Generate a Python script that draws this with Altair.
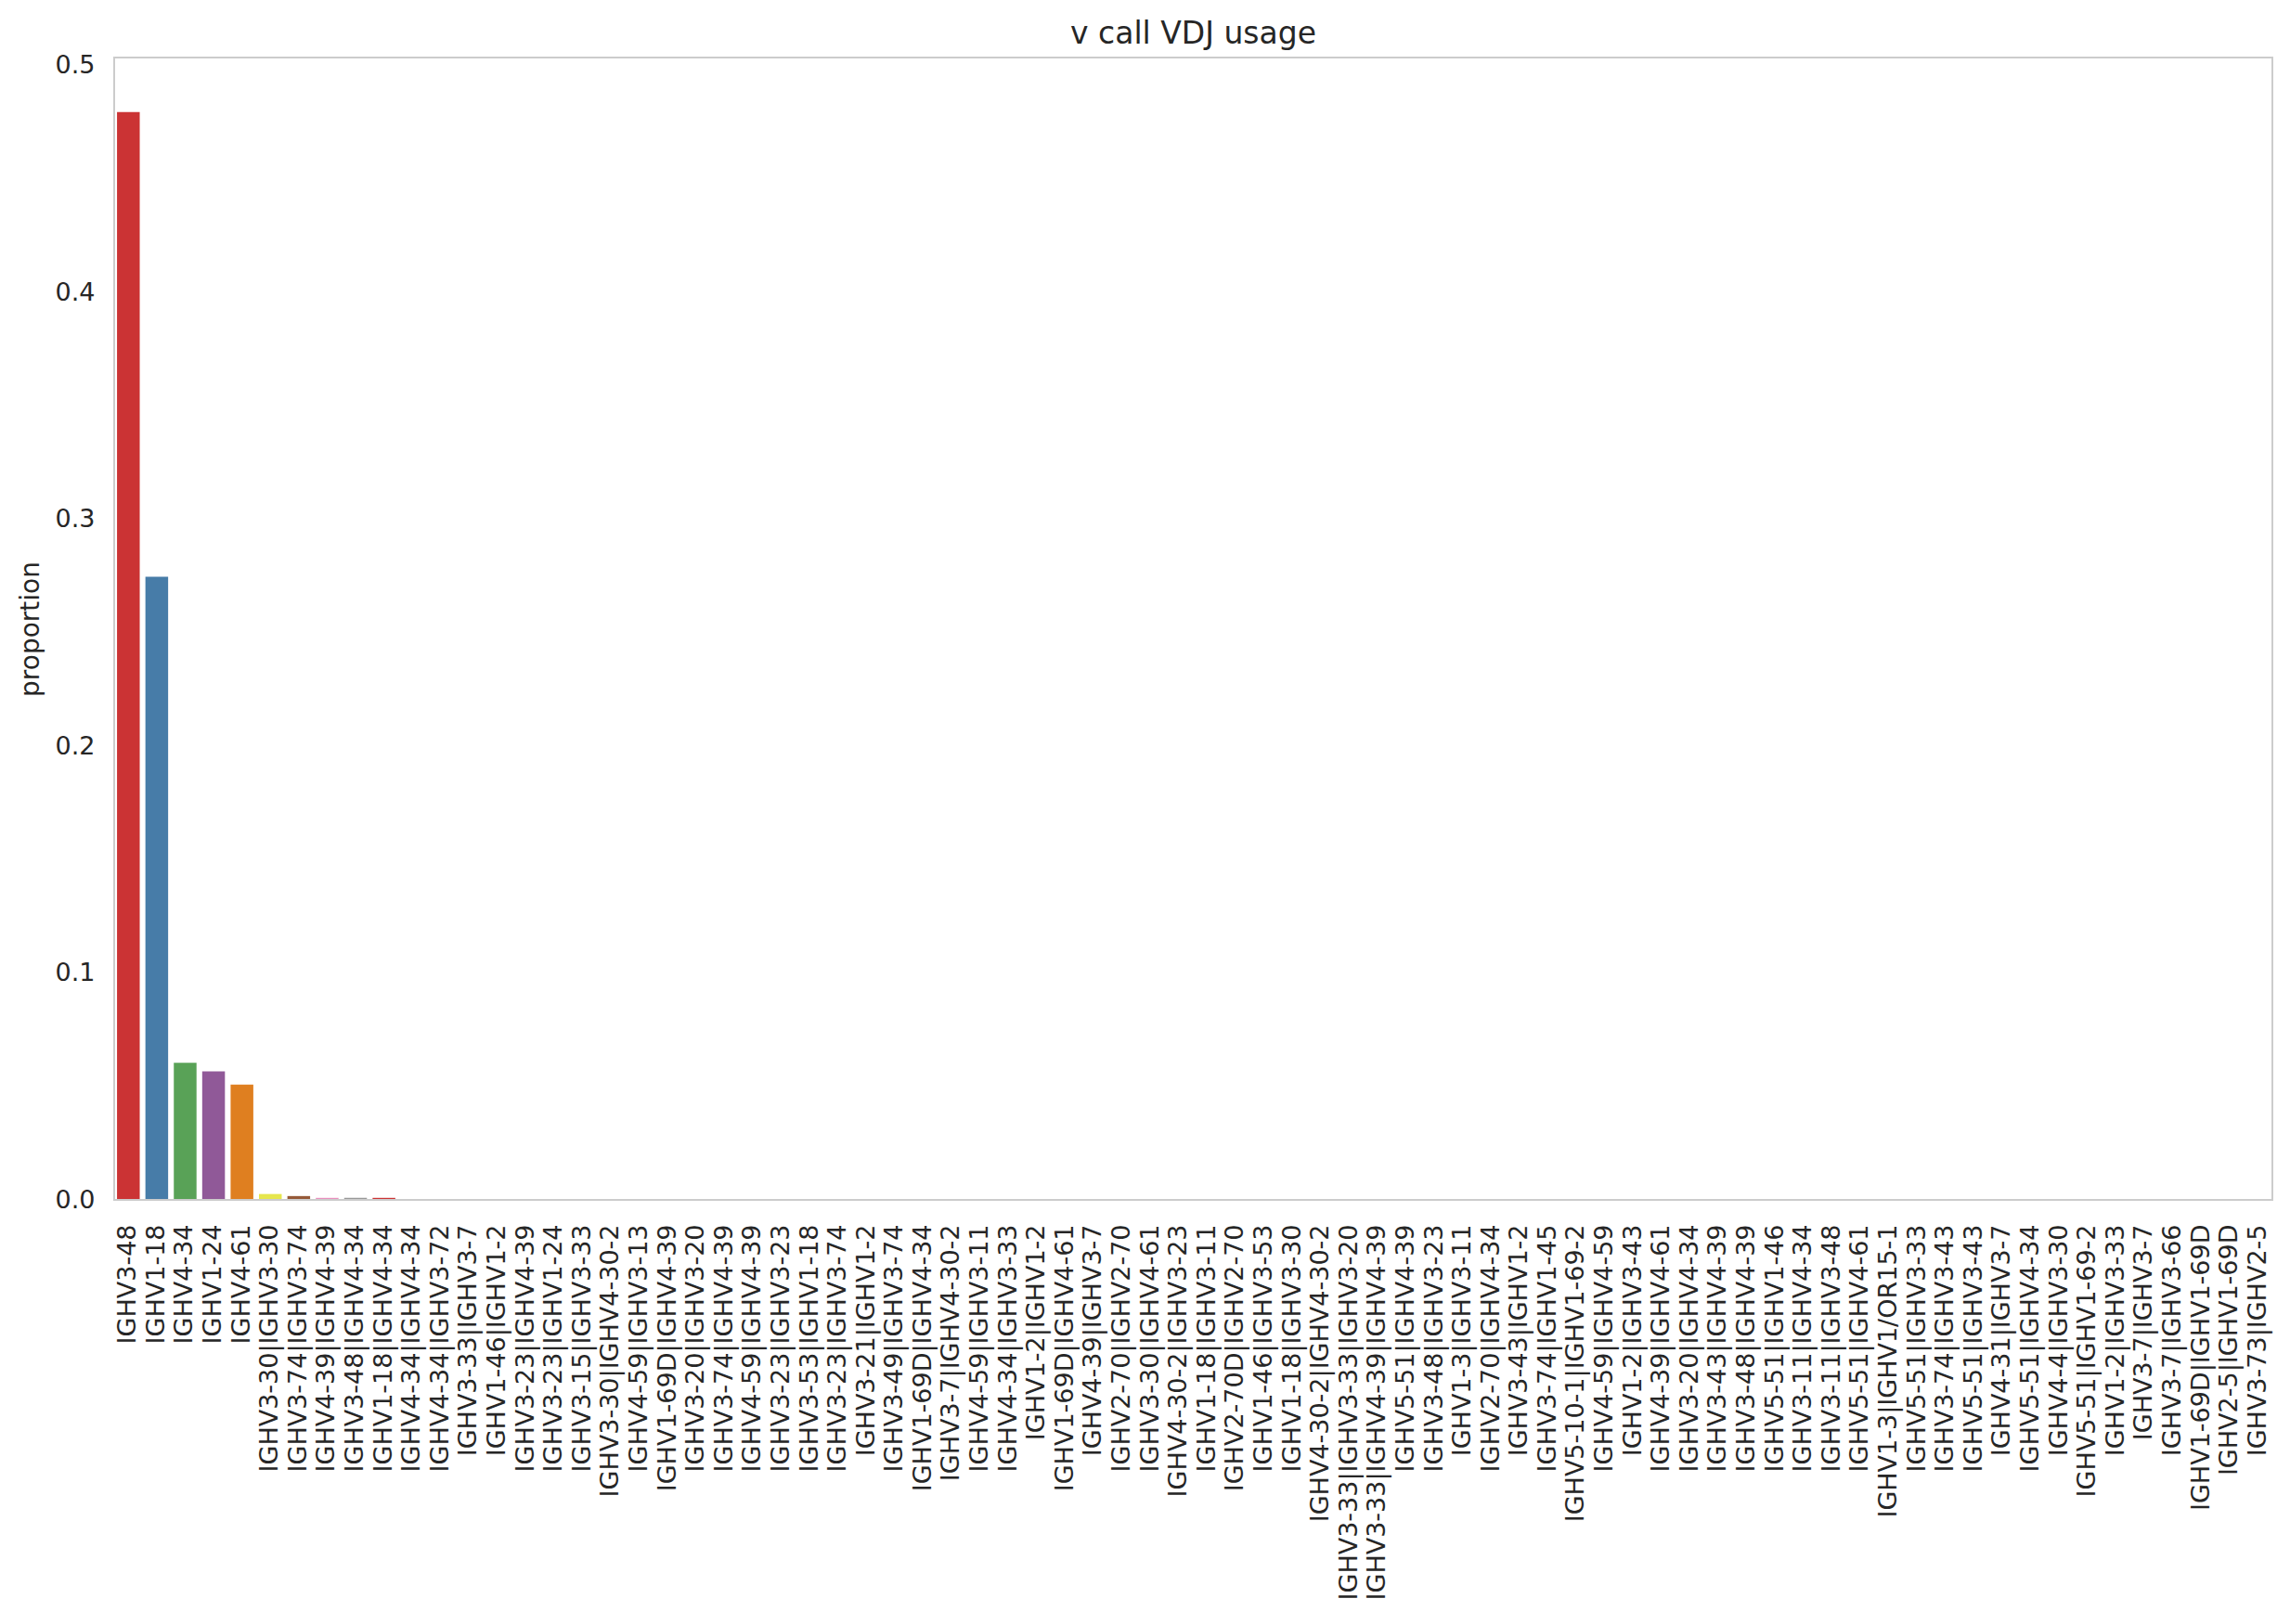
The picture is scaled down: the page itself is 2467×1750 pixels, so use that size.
import altair as alt
import pandas as pd

genes = [
    "IGHV3-48", "IGHV1-18", "IGHV4-34", "IGHV1-24", "IGHV4-61",
    "IGHV3-30|IGHV3-30", "IGHV3-74|IGHV3-74", "IGHV4-39|IGHV4-39", "IGHV3-48|IGHV4-34",
    "IGHV1-18|IGHV4-34", "IGHV4-34|IGHV4-34", "IGHV4-34|IGHV3-72", "IGHV3-33|IGHV3-7",
    "IGHV1-46|IGHV1-2", "IGHV3-23|IGHV4-39", "IGHV3-23|IGHV1-24", "IGHV3-15|IGHV3-33",
    "IGHV3-30|IGHV4-30-2", "IGHV4-59|IGHV3-13", "IGHV1-69D|IGHV4-39", "IGHV3-20|IGHV3-20",
    "IGHV3-74|IGHV4-39", "IGHV4-59|IGHV4-39", "IGHV3-23|IGHV3-23", "IGHV3-53|IGHV1-18",
    "IGHV3-23|IGHV3-74", "IGHV3-21|IGHV1-2", "IGHV3-49|IGHV3-74", "IGHV1-69D|IGHV4-34",
    "IGHV3-7|IGHV4-30-2", "IGHV4-59|IGHV3-11", "IGHV4-34|IGHV3-33", "IGHV1-2|IGHV1-2",
    "IGHV1-69D|IGHV4-61", "IGHV4-39|IGHV3-7", "IGHV2-70|IGHV2-70", "IGHV3-30|IGHV4-61",
    "IGHV4-30-2|IGHV3-23", "IGHV1-18|IGHV3-11", "IGHV2-70D|IGHV2-70", "IGHV1-46|IGHV3-53",
    "IGHV1-18|IGHV3-30", "IGHV4-30-2|IGHV4-30-2", "IGHV3-33|IGHV3-33|IGHV3-20",
    "IGHV3-33|IGHV4-39|IGHV4-39", "IGHV5-51|IGHV4-39", "IGHV3-48|IGHV3-23", "IGHV1-3|IGHV3-11",
    "IGHV2-70|IGHV4-34", "IGHV3-43|IGHV1-2", "IGHV3-74|IGHV1-45", "IGHV5-10-1|IGHV1-69-2",
    "IGHV4-59|IGHV4-59", "IGHV1-2|IGHV3-43", "IGHV4-39|IGHV4-61", "IGHV3-20|IGHV4-34",
    "IGHV3-43|IGHV4-39", "IGHV3-48|IGHV4-39", "IGHV5-51|IGHV1-46", "IGHV3-11|IGHV4-34",
    "IGHV3-11|IGHV3-48", "IGHV5-51|IGHV4-61", "IGHV1-3|IGHV1/OR15-1", "IGHV5-51|IGHV3-33",
    "IGHV3-74|IGHV3-43", "IGHV5-51|IGHV3-43", "IGHV4-31|IGHV3-7", "IGHV5-51|IGHV4-34",
    "IGHV4-4|IGHV3-30", "IGHV5-51|IGHV1-69-2", "IGHV1-2|IGHV3-33", "IGHV3-7|IGHV3-7",
    "IGHV3-7|IGHV3-66", "IGHV1-69D|IGHV1-69D", "IGHV2-5|IGHV1-69D", "IGHV3-73|IGHV2-5",
]

proportions = [
    0.4795, 0.2747, 0.0604, 0.0567, 0.0508,
    0.0026, 0.0017, 0.0009, 0.0009,
    0.0009, 0.0003, 0.0003, 0.0003,
    0.0003, 0.0003, 0.0003, 0.0003,
    0.0002, 0.0002, 0.0002, 0.0002,
    0.0002, 0.0002, 0.0002, 0.0002,
    0.0002, 0.0002, 0.0002, 0.0002,
    0.0002, 0.0002, 0.0002, 0.0002,
    0.0002, 0.0002, 0.0002, 0.0002,
    0.0002, 0.0002, 0.0002, 0.0002,
    0.0002, 0.0002, 0.0002,
    0.0002, 0.0001, 0.0001, 0.0001,
    0.0001, 0.0001, 0.0001, 0.0001,
    0.0001, 0.0001, 0.0001, 0.0001,
    0.0001, 0.0001, 0.0001, 0.0001,
    0.0001, 0.0001, 0.0001, 0.0001,
    0.0001, 0.0001, 0.0001, 0.0001,
    0.0001, 0.0001, 0.0001, 0.0001,
    0.0001, 0.0001, 0.0001, 0.0001,
]

palette = ["#cb3334", "#477ca8", "#59a257", "#905998", "#df7f20",
           "#e6e64d", "#965a38", "#e890be", "#999999"]

y_ticks = [0.0, 0.1, 0.2, 0.3, 0.4, 0.5]

df = pd.DataFrame({"gene": genes, "proportion": proportions})
colors = [palette[i % len(palette)] for i in range(len(genes))]

W, H = 2325, 1231
FONT = "DejaVu Sans"
TXT = "#262626"

bars = alt.Chart(df).mark_bar().encode(
    x=alt.X("gene:N", sort=genes,
            scale=alt.Scale(paddingInner=0.2, paddingOuter=0.1),
            axis=alt.Axis(title=None, labelAngle=270, labelFontSize=27, labelFont=FONT,
                          labelColor=TXT, ticks=False, domain=False, labelPadding=26,
                          labelLimit=0, labelOverlap=False, grid=False)),
    y=alt.Y("proportion:Q",
            scale=alt.Scale(domain=[0, 0.5035], nice=False, zero=True),
            axis=alt.Axis(title="proportion", values=y_ticks, format=".1f", grid=False,
                          ticks=False, domain=False, labelPadding=21, labelFontSize=27,
                          labelFont=FONT, labelColor=TXT, titleFont=FONT, titleFontSize=28,
                          titleFontWeight="normal", titleColor=TXT, titlePadding=12)),
    color=alt.Color("gene:N", scale=alt.Scale(domain=genes, range=colors), legend=None),
)

frame = alt.Chart(pd.DataFrame({"a": [0]})).mark_rect(
    fill="transparent", stroke="#cccccc", strokeWidth=2
).encode(x=alt.value(0), x2=alt.value(W), y=alt.value(0), y2=alt.value(H))

chart = alt.layer(bars, frame).properties(
    width=W, height=H,
    title=alt.TitleParams("v call VDJ usage", font=FONT, fontSize=33, fontWeight="normal",
                          color=TXT, anchor="middle", frame="group", baseline="alphabetic",
                          offset=-23),
    autosize=alt.AutoSizeParams(type="none"),
    padding={"left": 115, "top": 54, "right": 10, "bottom": 440},
).configure_view(stroke=None).configure(background="white")

chart.save("out.html", embed_options={"renderer": "svg", "actions": False})
